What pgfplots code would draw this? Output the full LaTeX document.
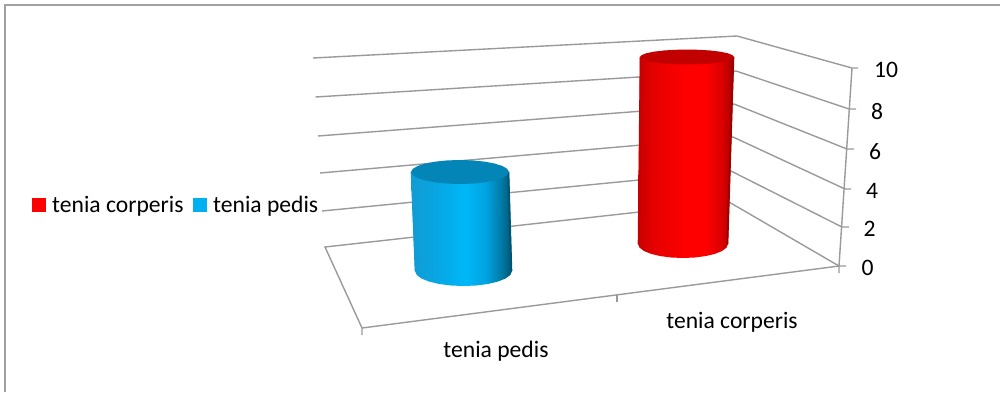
\documentclass[border=0pt]{standalone}
\usepackage{pgfplots}
\pgfplotsset{compat=1.18}
\usepackage{fontspec}
\setmainfont{Carlito}
\definecolor{gridg}{HTML}{9A9A9A}
\definecolor{framg}{HTML}{A0A0A0}
\definecolor{bluetop}{HTML}{0385B8}
\definecolor{redtop}{HTML}{C20000}
\definecolor{legblue}{HTML}{00B0F0}
\definecolor{blueleft}{rgb}{0.07,0.61,0.83}
\definecolor{blueright}{rgb}{0,0.33,0.45}
\definecolor{redleft}{rgb}{0.78,0,0}
\definecolor{redright}{rgb}{0.62,0,0}
% Horizontal light falloff across the cylinder bodies
\pgfdeclarehorizontalshading{bluecyl}{100bp}{
  rgb(0bp)=(0.07,0.61,0.83);
  rgb(25bp)=(0.07,0.61,0.83);
  rgb(40bp)=(0.02,0.66,0.90);
  rgb(52bp)=(0,0.72,0.97);
  rgb(62bp)=(0,0.64,0.88);
  rgb(70bp)=(0,0.47,0.64);
  rgb(75bp)=(0,0.33,0.45);
  rgb(100bp)=(0,0.33,0.45)}
\pgfdeclarehorizontalshading{redcyl}{100bp}{
  rgb(0bp)=(0.78,0,0);
  rgb(25bp)=(0.78,0,0);
  rgb(33bp)=(0.90,0,0);
  rgb(50bp)=(1,0,0);
  rgb(60bp)=(1,0,0);
  rgb(69bp)=(0.85,0,0);
  rgb(75bp)=(0.62,0,0);
  rgb(100bp)=(0.62,0,0)}
\begin{document}
\begin{tikzpicture}
\begin{axis}[
  scale only axis, width=1000pt, height=392pt,
  xmin=0, xmax=1000, ymin=0, ymax=392, y dir=reverse,
  hide axis, clip=true,
  every axis plot/.append style={no markers},
]
% outer frame
\addplot[framg, line width=1.6pt] coordinates {(5,392) (5,5) (1000,5)};

% back wall gridlines, 10 down to 2
\addplot[gridg, line width=1.4pt] coordinates {(313,58) (737,36) (852,68) (858,68)};
\addplot[gridg, line width=1.4pt] coordinates {(315.5,97) (736,71) (849,109) (856,109)};
\addplot[gridg, line width=1.4pt] coordinates {(318,136) (734,104) (847,149) (854,149)};
\addplot[gridg, line width=1.4pt] coordinates {(320,173) (733,137) (845,189) (851,189)};
\addplot[gridg, line width=1.4pt] coordinates {(322,211) (731,171) (842,227) (849,227)};
% floor and zero line
\addplot[gridg, line width=1.4pt] coordinates {(362,335) (362,328) (325,247) (729,202) (839,266) (846,266)};
\addplot[gridg, line width=1.4pt] coordinates {(362,328) (839,266) (839,273)};
\addplot[gridg, line width=1.4pt] coordinates {(617,295) (617,302)};
% value axis
\addplot[gridg, line width=1.4pt] coordinates {(852,68) (839,266)};

% tenia pedis cylinder: body
\addplot[draw=none, shade, shading=bluecyl] coordinates {
  (411,172) (509,172) (512,271)
  (510.4,274.9) (505.5,278.5) (497.8,281.6) (487.8,284) (476.1,285.5) (463.5,286)
  (450.9,285.5) (439.3,284) (429.2,281.6) (421.5,278.5) (416.7,274.9) (415,271)} -- cycle;
% side edges of the body, stroked so the silhouette stays clean
\addplot[blueleft, line width=2pt] coordinates {(411.7,172) (415.7,271)};
\addplot[blueright, line width=2pt] coordinates {(508.3,172) (511.3,271)};
% tenia pedis cylinder: top face
\addplot[draw=none, fill=bluetop] coordinates {
  (509,172) (507.3,175.1) (502.4,178) (494.6,180.5) (484.5,182.4) (472.7,183.6) (460,184)
  (447.3,183.6) (435.5,182.4) (425.4,180.5) (417.6,178) (412.7,175.1) (411,172)
  (412.7,168.9) (417.6,166) (425.4,163.5) (435.5,161.6) (447.3,160.4) (460,160)
  (472.7,160.4) (484.5,161.6) (494.6,163.5) (502.4,166) (507.3,168.9)} -- cycle;

% tenia corperis cylinder: body
\addplot[draw=none, shade, shading=redcyl] coordinates {
  (640,57) (734,57) (728,244)
  (726.5,247.6) (722,251) (714.8,253.9) (705.5,256.1) (694.7,257.5) (683,258)
  (671.3,257.5) (660.5,256.1) (651.2,253.9) (644,251) (639.5,247.6) (638,244)} -- cycle;
\addplot[redleft, line width=2pt] coordinates {(640.7,57) (638.7,244)};
\addplot[redright, line width=2pt] coordinates {(733.3,57) (727.3,244)};
% tenia corperis cylinder: top face
\addplot[draw=none, fill=redtop] coordinates {
  (734,57) (732.4,58.9) (727.7,60.75) (720.2,62.3) (710.5,63.5) (699.2,64.2) (687,64.5)
  (674.8,64.2) (663.5,63.5) (653.8,62.3) (646.3,60.75) (641.6,58.9) (640,57)
  (641.6,55.1) (646.3,53.25) (653.8,51.7) (663.5,50.5) (674.8,49.8) (687,49.5)
  (699.2,49.8) (710.5,50.5) (720.2,51.7) (727.7,53.25) (732.4,55.1)} -- cycle;

% legend keys
\addplot[draw=none, fill=red] coordinates {(32,198) (46,198) (46,212) (32,212)} -- cycle;
\addplot[draw=none, fill=legblue] coordinates {(193,198) (207,198) (207,212) (193,212)} -- cycle;

\tikzset{lab/.style={font=\fontsize{23.6pt}{28pt}\selectfont, text=black, inner sep=0pt, anchor=base}}
\node[lab, anchor=base west] at (axis cs:52,212) {tenia corperis};
\node[lab, anchor=base west] at (axis cs:213,212) {tenia pedis};
\node[lab] at (axis cs:886,77) {10};
\node[lab] at (axis cs:877,119) {8};
\node[lab] at (axis cs:875,159) {6};
\node[lab] at (axis cs:872,198) {4};
\node[lab] at (axis cs:869.5,236) {2};
\node[lab] at (axis cs:867.5,275) {0};
\node[lab] at (axis cs:496,357) {tenia pedis};
\node[lab] at (axis cs:732,328) {tenia corperis};
\end{axis}
% page is exactly the plot area
\pgfresetboundingbox
\useasboundingbox (0,0) rectangle (1000pt,392pt);
\end{tikzpicture}
\end{document}
